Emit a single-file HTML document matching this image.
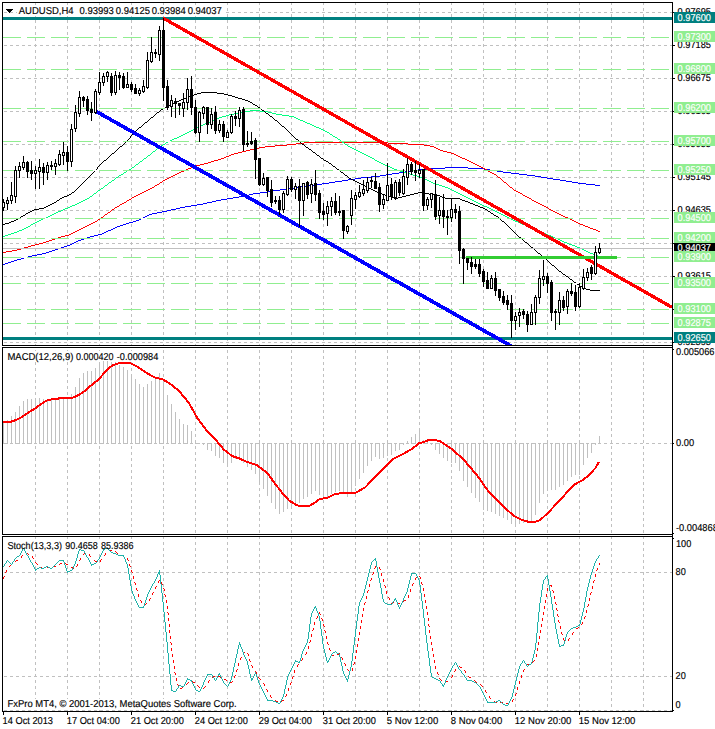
<!DOCTYPE html>
<html><head><meta charset="utf-8"><title>AUDUSD,H4</title>
<style>html,body{margin:0;padding:0;background:#fff}</style></head>
<body>
<svg width="715" height="729" viewBox="0 0 715 729" style="display:block">
<style>text{font-family:"Liberation Sans",sans-serif;font-size:10.0px;fill:#000;stroke:#000;stroke-width:.15px;text-rendering:geometricPrecision}.w{fill:#fff;stroke:#fff}</style>
<rect width="715" height="729" fill="#fff"/>
<g shape-rendering="crispEdges" stroke="#c0c0c0" stroke-width="1" stroke-dasharray="3 3">
<line x1="35.5" y1="3" x2="35.5" y2="345" stroke-dashoffset="1"/>
<line x1="67.5" y1="3" x2="67.5" y2="345" stroke-dashoffset="1"/>
<line x1="99.5" y1="3" x2="99.5" y2="345" stroke-dashoffset="1"/>
<line x1="131.5" y1="3" x2="131.5" y2="345" stroke-dashoffset="1"/>
<line x1="163.5" y1="3" x2="163.5" y2="345" stroke-dashoffset="1"/>
<line x1="195.5" y1="3" x2="195.5" y2="345" stroke-dashoffset="1"/>
<line x1="227.5" y1="3" x2="227.5" y2="345" stroke-dashoffset="1"/>
<line x1="259.5" y1="3" x2="259.5" y2="345" stroke-dashoffset="1"/>
<line x1="291.5" y1="3" x2="291.5" y2="345" stroke-dashoffset="1"/>
<line x1="323.5" y1="3" x2="323.5" y2="345" stroke-dashoffset="1"/>
<line x1="355.5" y1="3" x2="355.5" y2="345" stroke-dashoffset="1"/>
<line x1="387.5" y1="3" x2="387.5" y2="345" stroke-dashoffset="1"/>
<line x1="419.5" y1="3" x2="419.5" y2="345" stroke-dashoffset="1"/>
<line x1="451.5" y1="3" x2="451.5" y2="345" stroke-dashoffset="1"/>
<line x1="483.5" y1="3" x2="483.5" y2="345" stroke-dashoffset="1"/>
<line x1="515.5" y1="3" x2="515.5" y2="345" stroke-dashoffset="1"/>
<line x1="547.5" y1="3" x2="547.5" y2="345" stroke-dashoffset="1"/>
<line x1="579.5" y1="3" x2="579.5" y2="345" stroke-dashoffset="1"/>
<line x1="611.5" y1="3" x2="611.5" y2="345" stroke-dashoffset="1"/>
<line x1="643.5" y1="3" x2="643.5" y2="345" stroke-dashoffset="1"/>
<line x1="35.5" y1="348" x2="35.5" y2="534" stroke-dashoffset="4"/>
<line x1="67.5" y1="348" x2="67.5" y2="534" stroke-dashoffset="4"/>
<line x1="99.5" y1="348" x2="99.5" y2="534" stroke-dashoffset="4"/>
<line x1="131.5" y1="348" x2="131.5" y2="534" stroke-dashoffset="4"/>
<line x1="163.5" y1="348" x2="163.5" y2="534" stroke-dashoffset="4"/>
<line x1="195.5" y1="348" x2="195.5" y2="534" stroke-dashoffset="4"/>
<line x1="227.5" y1="348" x2="227.5" y2="534" stroke-dashoffset="4"/>
<line x1="259.5" y1="348" x2="259.5" y2="534" stroke-dashoffset="4"/>
<line x1="291.5" y1="348" x2="291.5" y2="534" stroke-dashoffset="4"/>
<line x1="323.5" y1="348" x2="323.5" y2="534" stroke-dashoffset="4"/>
<line x1="355.5" y1="348" x2="355.5" y2="534" stroke-dashoffset="4"/>
<line x1="387.5" y1="348" x2="387.5" y2="534" stroke-dashoffset="4"/>
<line x1="419.5" y1="348" x2="419.5" y2="534" stroke-dashoffset="4"/>
<line x1="451.5" y1="348" x2="451.5" y2="534" stroke-dashoffset="4"/>
<line x1="483.5" y1="348" x2="483.5" y2="534" stroke-dashoffset="4"/>
<line x1="515.5" y1="348" x2="515.5" y2="534" stroke-dashoffset="4"/>
<line x1="547.5" y1="348" x2="547.5" y2="534" stroke-dashoffset="4"/>
<line x1="579.5" y1="348" x2="579.5" y2="534" stroke-dashoffset="4"/>
<line x1="611.5" y1="348" x2="611.5" y2="534" stroke-dashoffset="4"/>
<line x1="643.5" y1="348" x2="643.5" y2="534" stroke-dashoffset="4"/>
<line x1="35.5" y1="537" x2="35.5" y2="711" stroke-dashoffset="1"/>
<line x1="67.5" y1="537" x2="67.5" y2="711" stroke-dashoffset="1"/>
<line x1="99.5" y1="537" x2="99.5" y2="711" stroke-dashoffset="1"/>
<line x1="131.5" y1="537" x2="131.5" y2="711" stroke-dashoffset="1"/>
<line x1="163.5" y1="537" x2="163.5" y2="711" stroke-dashoffset="1"/>
<line x1="195.5" y1="537" x2="195.5" y2="711" stroke-dashoffset="1"/>
<line x1="227.5" y1="537" x2="227.5" y2="711" stroke-dashoffset="1"/>
<line x1="259.5" y1="537" x2="259.5" y2="711" stroke-dashoffset="1"/>
<line x1="291.5" y1="537" x2="291.5" y2="711" stroke-dashoffset="1"/>
<line x1="323.5" y1="537" x2="323.5" y2="711" stroke-dashoffset="1"/>
<line x1="355.5" y1="537" x2="355.5" y2="711" stroke-dashoffset="1"/>
<line x1="387.5" y1="537" x2="387.5" y2="711" stroke-dashoffset="1"/>
<line x1="419.5" y1="537" x2="419.5" y2="711" stroke-dashoffset="1"/>
<line x1="451.5" y1="537" x2="451.5" y2="711" stroke-dashoffset="1"/>
<line x1="483.5" y1="537" x2="483.5" y2="711" stroke-dashoffset="1"/>
<line x1="515.5" y1="537" x2="515.5" y2="711" stroke-dashoffset="1"/>
<line x1="547.5" y1="537" x2="547.5" y2="711" stroke-dashoffset="1"/>
<line x1="579.5" y1="537" x2="579.5" y2="711" stroke-dashoffset="1"/>
<line x1="611.5" y1="537" x2="611.5" y2="711" stroke-dashoffset="1"/>
<line x1="643.5" y1="537" x2="643.5" y2="711" stroke-dashoffset="1"/>
<line x1="4" y1="12.5" x2="672" y2="12.5"/>
<line x1="4" y1="45.5" x2="672" y2="45.5"/>
<line x1="4" y1="78.5" x2="672" y2="78.5"/>
<line x1="4" y1="111.5" x2="672" y2="111.5"/>
<line x1="4" y1="144.5" x2="672" y2="144.5"/>
<line x1="4" y1="177.5" x2="672" y2="177.5"/>
<line x1="4" y1="210.5" x2="672" y2="210.5"/>
<line x1="4" y1="243.5" x2="672" y2="243.5"/>
<line x1="4" y1="276.5" x2="672" y2="276.5"/>
<line x1="4" y1="309.5" x2="672" y2="309.5"/>
<line x1="4" y1="342.5" x2="672" y2="342.5"/>
</g>
<g shape-rendering="crispEdges" stroke="#c0c0c0" stroke-width="1" stroke-dasharray="3 3">
<line x1="4" y1="443.5" x2="672" y2="443.5"/>
<line x1="4" y1="572.5" x2="672" y2="572.5"/>
<line x1="4" y1="676.5" x2="672" y2="676.5"/>
<line x1="4" y1="710.5" x2="672" y2="710.5"/>
</g>
<g shape-rendering="crispEdges">
<path d="M445 167h23v1h-23zM428 168h17v1h-17zM468 168h16v1h-16zM418 169h10v1h-10zM484 169h6v1h-6zM412 170h6v1h-6zM490 170h7v1h-7zM405 171h7v1h-7zM497 171h6v1h-6zM399 172h6v1h-6zM503 172h8v1h-8zM392 173h7v1h-7zM511 173h8v1h-8zM386 174h6v1h-6zM519 174h8v1h-8zM380 175h6v1h-6zM527 175h8v1h-8zM371 176h9v1h-9zM535 176h6v1h-6zM361 177h10v1h-10zM541 177h6v1h-6zM355 178h6v1h-6zM547 178h6v1h-6zM348 179h7v1h-7zM553 179h7v1h-7zM342 180h6v1h-6zM560 180h6v1h-6zM335 181h7v1h-7zM566 181h6v1h-6zM329 182h6v1h-6zM572 182h6v1h-6zM322 183h7v1h-7zM578 183h8v1h-8zM314 184h8v1h-8zM586 184h9v1h-9zM307 185h7v1h-7zM595 185h5v1h-5zM301 186h6v1h-6zM295 187h6v1h-6zM289 188h6v1h-6zM280 189h9v1h-9zM272 190h8v1h-8zM268 191h4v1h-4zM260 192h8v1h-8zM253 193h7v1h-7zM249 194h4v1h-4zM245 195h4v1h-4zM239 196h6v1h-6zM233 197h6v1h-6zM227 198h6v1h-6zM221 199h6v1h-6zM216 200h5v1h-5zM212 201h4v1h-4zM207 202h5v1h-5zM203 203h4v1h-4zM197 204h6v1h-6zM191 205h6v1h-6zM185 206h6v1h-6zM180 207h5v1h-5zM176 208h4v1h-4zM171 209h5v1h-5zM167 210h4v1h-4zM162 211h5v1h-5zM157 212h5v1h-5zM152 213h5v1h-5zM149 214h3v1h-3zM147 215h2v1h-2zM145 216h2v1h-2zM143 217h2v1h-2zM141 218h2v1h-2zM139 219h2v1h-2zM136 220h3v1h-3zM133 221h3v1h-3zM129 222h4v1h-4zM126 223h3v1h-3zM123 224h3v1h-3zM120 225h3v1h-3zM117 226h3v1h-3zM115 227h2v1h-2zM113 228h2v1h-2zM111 229h2v1h-2zM108 230h3v1h-3zM106 231h2v1h-2zM104 232h2v1h-2zM102 233h2v1h-2zM98 234h4v1h-4zM94 235h4v1h-4zM90 236h4v1h-4zM87 237h3v1h-3zM84 238h3v1h-3zM81 239h3v1h-3zM78 240h3v1h-3zM76 241h2v1h-2zM74 242h2v1h-2zM72 243h2v1h-2zM70 244h2v1h-2zM67 245h3v1h-3zM64 246h3v1h-3zM61 247h3v1h-3zM58 248h3v1h-3zM55 249h3v1h-3zM52 250h3v1h-3zM49 251h3v1h-3zM46 252h3v1h-3zM42 253h4v1h-4zM37 254h5v1h-5zM32 255h5v1h-5zM28 256h4v1h-4zM24 257h4v1h-4zM21 258h3v1h-3zM17 259h4v1h-4zM14 260h3v1h-3zM11 261h3v1h-3zM8 262h3v1h-3zM5 263h3v1h-3zM3 264h2v1h-2z" fill="#0000ff"/>
<path d="M304 142h84v1h-84zM296 143h8v1h-8zM388 143h20v1h-20zM287 144h9v1h-9zM408 144h16v1h-16zM275 145h12v1h-12zM424 145h6v1h-6zM265 146h10v1h-10zM430 146h4v1h-4zM259 147h6v1h-6zM434 147h2v1h-2zM254 148h5v1h-5zM436 148h2v1h-2zM250 149h4v1h-4zM438 149h2v1h-2zM246 150h4v1h-4zM440 150h3v1h-3zM242 151h4v1h-4zM443 151h4v1h-4zM238 152h4v1h-4zM447 152h4v1h-4zM234 153h4v1h-4zM451 153h3v1h-3zM231 154h3v1h-3zM454 154h2v1h-2zM229 155h2v1h-2zM456 155h2v1h-2zM226 156h3v1h-3zM458 156h2v1h-2zM224 157h2v1h-2zM460 157h2v1h-2zM221 158h3v1h-3zM462 158h3v1h-3zM218 159h3v1h-3zM465 159h2v1h-2zM214 160h4v1h-4zM467 160h2v1h-2zM211 161h3v1h-3zM469 161h2v1h-2zM208 162h3v1h-3zM471 162h2v1h-2zM204 163h4v1h-4zM473 163h2v1h-2zM200 164h4v1h-4zM475 164h2v1h-2zM196 165h4v1h-4zM477 165h2v1h-2zM193 166h3v1h-3zM479 166h2v1h-2zM191 167h2v1h-2zM481 167h2v1h-2zM188 168h3v1h-3zM483 168h2v1h-2zM186 169h2v1h-2zM485 169h2v1h-2zM184 170h2v1h-2zM181 171h3v1h-3zM488 171h2v1h-2zM179 172h2v1h-2zM490 172h2v1h-2zM177 173h2v1h-2zM492 173h2v1h-2zM175 174h2v1h-2zM494 174h2v1h-2zM173 175h2v1h-2zM171 176h2v1h-2zM169 177h2v1h-2zM498 177h2v1h-2zM167 178h2v1h-2zM165 179h2v1h-2zM163 180h2v1h-2zM160 182h2v1h-2zM504 182h2v1h-2zM157 184h2v1h-2zM155 185h2v1h-2zM152 187h2v1h-2zM510 187h2v1h-2zM150 188h2v1h-2zM148 189h2v1h-2zM146 190h2v1h-2zM514 190h2v1h-2zM144 191h2v1h-2zM516 191h2v1h-2zM142 192h2v1h-2zM518 192h2v1h-2zM140 193h2v1h-2zM520 193h2v1h-2zM138 194h2v1h-2zM136 195h2v1h-2zM523 195h2v1h-2zM134 196h2v1h-2zM525 196h2v1h-2zM132 197h2v1h-2zM527 197h2v1h-2zM529 198h2v1h-2zM129 199h2v1h-2zM127 200h2v1h-2zM532 200h2v1h-2zM534 201h2v1h-2zM124 202h2v1h-2zM536 202h2v1h-2zM122 203h2v1h-2zM538 203h2v1h-2zM120 204h2v1h-2zM540 204h2v1h-2zM542 205h2v1h-2zM117 206h2v1h-2zM544 206h2v1h-2zM115 207h2v1h-2zM546 207h2v1h-2zM112 209h2v1h-2zM549 209h2v1h-2zM551 210h2v1h-2zM553 211h2v1h-2zM108 212h2v1h-2zM555 212h2v1h-2zM557 213h2v1h-2zM105 214h2v1h-2zM559 214h2v1h-2zM561 215h2v1h-2zM563 216h2v1h-2zM101 217h2v1h-2zM565 217h3v1h-3zM568 218h2v1h-2zM98 219h2v1h-2zM570 219h2v1h-2zM572 220h2v1h-2zM95 221h2v1h-2zM574 221h2v1h-2zM93 222h2v1h-2zM576 222h2v1h-2zM91 223h2v1h-2zM578 223h2v1h-2zM89 224h2v1h-2zM580 224h3v1h-3zM87 225h2v1h-2zM583 225h2v1h-2zM85 226h2v1h-2zM585 226h3v1h-3zM83 227h2v1h-2zM588 227h2v1h-2zM81 228h2v1h-2zM590 228h3v1h-3zM79 229h2v1h-2zM593 229h3v1h-3zM77 230h2v1h-2zM596 230h2v1h-2zM75 231h2v1h-2zM598 231h2v1h-2zM73 232h2v1h-2zM71 233h2v1h-2zM69 234h2v1h-2zM65 235h4v1h-4zM61 236h4v1h-4zM58 237h3v1h-3zM55 238h3v1h-3zM52 239h3v1h-3zM49 240h3v1h-3zM46 241h3v1h-3zM43 242h3v1h-3zM39 243h4v1h-4zM35 244h4v1h-4zM31 245h4v1h-4zM28 246h3v1h-3zM24 247h4v1h-4zM21 248h3v1h-3zM17 249h4v1h-4zM12 250h5v1h-5zM6 251h6v1h-6zM3 252h3v1h-3zM97 220h1v1h-1zM100 218h1v1h-1zM103 216h1v1h-1zM104 215h1v1h-1zM107 213h1v1h-1zM110 211h1v1h-1zM111 210h1v1h-1zM114 208h1v1h-1zM119 205h1v1h-1zM126 201h1v1h-1zM131 198h1v1h-1zM154 186h1v1h-1zM159 183h1v1h-1zM162 181h1v1h-1zM487 170h1v1h-1zM496 175h1v1h-1zM497 176h1v1h-1zM500 178h1v1h-1zM501 179h1v1h-1zM502 180h1v1h-1zM503 181h1v1h-1zM506 183h1v1h-1zM507 184h1v1h-1zM508 185h1v1h-1zM509 186h1v1h-1zM512 188h1v1h-1zM513 189h1v1h-1zM522 194h1v1h-1zM531 199h1v1h-1zM548 208h1v1h-1z" fill="#ff0000"/>
<path d="M250 110h10v1h-10zM242 111h8v1h-8zM260 111h8v1h-8zM238 112h4v1h-4zM268 112h4v1h-4zM234 113h4v1h-4zM272 113h4v1h-4zM229 114h5v1h-5zM276 114h6v1h-6zM226 115h3v1h-3zM282 115h7v1h-7zM222 116h4v1h-4zM289 116h5v1h-5zM219 117h3v1h-3zM294 117h2v1h-2zM216 118h3v1h-3zM296 118h2v1h-2zM214 119h2v1h-2zM298 119h2v1h-2zM212 120h2v1h-2zM300 120h3v1h-3zM210 121h2v1h-2zM303 121h2v1h-2zM208 122h2v1h-2zM305 122h2v1h-2zM205 123h3v1h-3zM307 123h3v1h-3zM203 124h2v1h-2zM310 124h2v1h-2zM201 125h2v1h-2zM312 125h2v1h-2zM199 126h2v1h-2zM314 126h2v1h-2zM197 127h2v1h-2zM316 127h3v1h-3zM195 128h2v1h-2zM319 128h2v1h-2zM193 129h2v1h-2zM321 129h2v1h-2zM191 130h2v1h-2zM323 130h2v1h-2zM189 131h2v1h-2zM325 131h2v1h-2zM187 132h2v1h-2zM327 132h2v1h-2zM185 133h2v1h-2zM183 134h2v1h-2zM330 134h2v1h-2zM181 135h2v1h-2zM179 136h2v1h-2zM333 136h2v1h-2zM177 137h2v1h-2zM335 137h2v1h-2zM174 138h3v1h-3zM172 139h2v1h-2zM338 139h2v1h-2zM170 140h2v1h-2zM168 141h2v1h-2zM166 142h2v1h-2zM342 142h2v1h-2zM163 144h2v1h-2zM345 144h2v1h-2zM161 145h2v1h-2zM348 146h2v1h-2zM350 147h2v1h-2zM157 148h2v1h-2zM352 148h2v1h-2zM354 149h2v1h-2zM356 150h2v1h-2zM153 151h2v1h-2zM358 151h2v1h-2zM360 152h2v1h-2zM362 153h2v1h-2zM364 154h2v1h-2zM148 155h2v1h-2zM366 155h2v1h-2zM368 156h2v1h-2zM370 157h2v1h-2zM144 158h2v1h-2zM372 158h2v1h-2zM375 160h2v1h-2zM140 161h2v1h-2zM377 161h2v1h-2zM379 162h2v1h-2zM381 163h2v1h-2zM136 164h2v1h-2zM383 164h2v1h-2zM385 165h3v1h-3zM388 166h2v1h-2zM132 167h2v1h-2zM390 167h2v1h-2zM392 168h2v1h-2zM129 169h2v1h-2zM394 169h3v1h-3zM127 170h2v1h-2zM397 170h3v1h-3zM400 171h4v1h-4zM124 172h2v1h-2zM404 172h3v1h-3zM407 173h3v1h-3zM121 174h2v1h-2zM410 174h3v1h-3zM119 175h2v1h-2zM413 175h4v1h-4zM417 176h3v1h-3zM116 177h2v1h-2zM420 177h3v1h-3zM423 178h2v1h-2zM425 179h2v1h-2zM112 180h2v1h-2zM427 180h2v1h-2zM429 181h2v1h-2zM109 182h2v1h-2zM431 182h2v1h-2zM433 183h3v1h-3zM436 184h3v1h-3zM105 185h2v1h-2zM439 185h3v1h-3zM442 186h3v1h-3zM445 187h3v1h-3zM101 188h2v1h-2zM448 188h2v1h-2zM450 189h2v1h-2zM98 190h2v1h-2zM452 190h2v1h-2zM454 191h2v1h-2zM456 192h2v1h-2zM94 193h2v1h-2zM458 193h2v1h-2zM460 194h2v1h-2zM462 195h2v1h-2zM90 196h2v1h-2zM464 196h2v1h-2zM466 197h2v1h-2zM87 198h2v1h-2zM468 198h2v1h-2zM85 199h2v1h-2zM470 199h2v1h-2zM83 200h2v1h-2zM472 200h2v1h-2zM81 201h2v1h-2zM474 201h2v1h-2zM79 202h2v1h-2zM476 202h2v1h-2zM77 203h2v1h-2zM478 203h2v1h-2zM75 204h2v1h-2zM480 204h2v1h-2zM72 205h3v1h-3zM482 205h2v1h-2zM70 206h2v1h-2zM484 206h3v1h-3zM68 207h2v1h-2zM487 207h2v1h-2zM65 208h3v1h-3zM489 208h2v1h-2zM63 209h2v1h-2zM491 209h2v1h-2zM61 210h2v1h-2zM493 210h2v1h-2zM58 211h3v1h-3zM495 211h2v1h-2zM56 212h2v1h-2zM497 212h2v1h-2zM54 213h2v1h-2zM499 213h2v1h-2zM52 214h2v1h-2zM501 214h2v1h-2zM50 215h2v1h-2zM503 215h2v1h-2zM48 216h2v1h-2zM505 216h2v1h-2zM46 217h2v1h-2zM507 217h2v1h-2zM43 218h3v1h-3zM509 218h2v1h-2zM41 219h2v1h-2zM511 219h2v1h-2zM39 220h2v1h-2zM513 220h2v1h-2zM37 221h2v1h-2zM515 221h3v1h-3zM35 222h2v1h-2zM518 222h2v1h-2zM33 223h2v1h-2zM520 223h2v1h-2zM31 224h2v1h-2zM522 224h3v1h-3zM525 225h2v1h-2zM28 226h2v1h-2zM527 226h3v1h-3zM26 227h2v1h-2zM530 227h2v1h-2zM24 228h2v1h-2zM532 228h2v1h-2zM22 229h2v1h-2zM534 229h3v1h-3zM19 230h3v1h-3zM537 230h2v1h-2zM17 231h2v1h-2zM539 231h3v1h-3zM14 232h3v1h-3zM542 232h2v1h-2zM11 233h3v1h-3zM544 233h2v1h-2zM8 234h3v1h-3zM546 234h2v1h-2zM5 235h3v1h-3zM548 235h3v1h-3zM3 236h2v1h-2zM551 236h2v1h-2zM553 237h2v1h-2zM555 238h3v1h-3zM558 239h2v1h-2zM560 240h2v1h-2zM562 241h2v1h-2zM564 242h3v1h-3zM567 243h2v1h-2zM569 244h3v1h-3zM572 245h3v1h-3zM575 246h2v1h-2zM577 247h3v1h-3zM580 248h2v1h-2zM582 249h2v1h-2zM584 250h2v1h-2zM586 251h2v1h-2zM588 252h2v1h-2zM590 253h3v1h-3zM593 254h2v1h-2zM595 255h3v1h-3zM598 256h2v1h-2zM30 225h1v1h-1zM89 197h1v1h-1zM92 195h1v1h-1zM93 194h1v1h-1zM96 192h1v1h-1zM97 191h1v1h-1zM100 189h1v1h-1zM103 187h1v1h-1zM104 186h1v1h-1zM107 184h1v1h-1zM108 183h1v1h-1zM111 181h1v1h-1zM114 179h1v1h-1zM115 178h1v1h-1zM118 176h1v1h-1zM123 173h1v1h-1zM126 171h1v1h-1zM131 168h1v1h-1zM134 166h1v1h-1zM135 165h1v1h-1zM138 163h1v1h-1zM139 162h1v1h-1zM142 160h1v1h-1zM143 159h1v1h-1zM146 157h1v1h-1zM147 156h1v1h-1zM150 154h1v1h-1zM151 153h1v1h-1zM152 152h1v1h-1zM155 150h1v1h-1zM156 149h1v1h-1zM159 147h1v1h-1zM160 146h1v1h-1zM165 143h1v1h-1zM329 133h1v1h-1zM332 135h1v1h-1zM337 138h1v1h-1zM340 140h1v1h-1zM341 141h1v1h-1zM344 143h1v1h-1zM347 145h1v1h-1zM374 159h1v1h-1z" fill="#00ff7f"/>
<path d="M201 92h16v1h-16zM197 93h4v1h-4zM217 93h7v1h-7zM194 94h3v1h-3zM224 94h4v1h-4zM191 95h3v1h-3zM228 95h4v1h-4zM189 96h2v1h-2zM232 96h3v1h-3zM186 97h3v1h-3zM235 97h3v1h-3zM183 98h3v1h-3zM238 98h4v1h-4zM181 99h2v1h-2zM242 99h3v1h-3zM179 100h2v1h-2zM245 100h3v1h-3zM177 101h2v1h-2zM248 101h2v1h-2zM175 102h2v1h-2zM250 102h2v1h-2zM173 103h2v1h-2zM171 104h2v1h-2zM253 104h2v1h-2zM169 105h2v1h-2zM255 105h2v1h-2zM167 106h2v1h-2zM165 107h2v1h-2zM258 107h2v1h-2zM163 108h2v1h-2zM161 109h2v1h-2zM262 110h2v1h-2zM157 112h2v1h-2zM266 113h2v1h-2zM270 116h2v1h-2zM151 117h2v1h-2zM275 120h2v1h-2zM145 122h2v1h-2zM282 126h2v1h-2zM139 127h2v1h-2zM296 139h2v1h-2zM302 144h2v1h-2zM120 146h2v1h-2zM306 147h2v1h-2zM309 149h2v1h-2zM313 152h2v1h-2zM112 153h2v1h-2zM317 155h2v1h-2zM321 158h2v1h-2zM104 160h2v1h-2zM324 160h2v1h-2zM326 161h2v1h-2zM329 163h2v1h-2zM333 166h2v1h-2zM337 169h2v1h-2zM341 172h2v1h-2zM345 175h2v1h-2zM349 178h2v1h-2zM351 179h2v1h-2zM353 180h2v1h-2zM355 181h2v1h-2zM357 182h2v1h-2zM359 183h2v1h-2zM361 184h2v1h-2zM363 185h2v1h-2zM365 186h2v1h-2zM367 187h2v1h-2zM369 188h2v1h-2zM371 189h2v1h-2zM373 190h2v1h-2zM375 191h2v1h-2zM72 192h2v1h-2zM377 192h3v1h-3zM418 192h5v1h-5zM380 193h2v1h-2zM414 193h4v1h-4zM423 193h6v1h-6zM69 194h2v1h-2zM382 194h3v1h-3zM410 194h4v1h-4zM429 194h6v1h-6zM67 195h2v1h-2zM385 195h3v1h-3zM406 195h4v1h-4zM435 195h5v1h-5zM64 196h3v1h-3zM388 196h3v1h-3zM402 196h4v1h-4zM440 196h2v1h-2zM62 197h2v1h-2zM391 197h3v1h-3zM398 197h4v1h-4zM442 197h3v1h-3zM60 198h2v1h-2zM394 198h4v1h-4zM445 198h15v1h-15zM460 199h2v1h-2zM57 200h2v1h-2zM462 200h3v1h-3zM465 201h3v1h-3zM54 202h2v1h-2zM468 202h2v1h-2zM52 203h2v1h-2zM470 203h3v1h-3zM50 204h2v1h-2zM473 204h2v1h-2zM48 205h2v1h-2zM475 205h3v1h-3zM46 206h2v1h-2zM478 206h2v1h-2zM44 207h2v1h-2zM480 207h3v1h-3zM39 208h5v1h-5zM483 208h2v1h-2zM34 209h5v1h-5zM485 209h2v1h-2zM32 210h2v1h-2zM30 211h2v1h-2zM488 211h2v1h-2zM28 212h2v1h-2zM26 213h2v1h-2zM491 213h2v1h-2zM23 215h2v1h-2zM494 215h2v1h-2zM21 216h2v1h-2zM496 216h2v1h-2zM18 218h2v1h-2zM16 219h2v1h-2zM14 220h2v1h-2zM11 221h3v1h-3zM502 221h2v1h-2zM9 222h2v1h-2zM5 223h4v1h-4zM3 224h2v1h-2zM519 237h2v1h-2zM525 242h2v1h-2zM531 247h2v1h-2zM538 253h2v1h-2zM544 258h2v1h-2zM552 265h2v1h-2zM559 271h2v1h-2zM563 274h2v1h-2zM566 276h2v1h-2zM570 279h2v1h-2zM574 282h2v1h-2zM577 284h2v1h-2zM580 286h2v1h-2zM582 287h2v1h-2zM584 288h2v1h-2zM586 289h4v1h-4zM590 290h10v1h-10zM20 217h1v1h-1zM25 214h1v1h-1zM56 201h1v1h-1zM59 199h1v1h-1zM71 193h1v1h-1zM74 191h1v1h-1zM75 190h1v1h-1zM76 189h1v1h-1zM77 188h1v1h-1zM78 187h1v1h-1zM79 186h1v1h-1zM80 185h1v1h-1zM81 184h1v1h-1zM82 183h1v1h-1zM83 182h1v1h-1zM84 181h1v1h-1zM85 180h1v1h-1zM86 179h1v1h-1zM87 178h1v1h-1zM88 177h1v1h-1zM89 176h1v1h-1zM90 175h1v1h-1zM91 174h1v1h-1zM92 173h1v1h-1zM93 172h1v1h-1zM94 171h1v1h-1zM95 170h1v1h-1zM96 169h1v1h-1zM97 167h1v2h-1zM98 166h1v1h-1zM99 165h1v1h-1zM100 164h1v1h-1zM101 163h1v1h-1zM102 162h1v1h-1zM103 161h1v1h-1zM106 159h1v1h-1zM107 158h1v1h-1zM108 157h1v1h-1zM109 156h1v1h-1zM110 155h1v1h-1zM111 154h1v1h-1zM114 152h1v1h-1zM115 151h1v1h-1zM116 150h1v1h-1zM117 149h1v1h-1zM118 148h1v1h-1zM119 147h1v1h-1zM122 145h1v1h-1zM123 144h1v1h-1zM124 143h1v1h-1zM125 142h1v1h-1zM126 141h1v1h-1zM127 140h1v1h-1zM128 139h1v1h-1zM129 138h1v1h-1zM130 136h1v2h-1zM131 135h1v1h-1zM132 134h1v1h-1zM133 133h1v1h-1zM134 132h1v1h-1zM135 131h1v1h-1zM136 130h1v1h-1zM137 129h1v1h-1zM138 128h1v1h-1zM141 126h1v1h-1zM142 125h1v1h-1zM143 124h1v1h-1zM144 123h1v1h-1zM147 121h1v1h-1zM148 120h1v1h-1zM149 119h1v1h-1zM150 118h1v1h-1zM153 116h1v1h-1zM154 115h1v1h-1zM155 114h1v1h-1zM156 113h1v1h-1zM159 111h1v1h-1zM160 110h1v1h-1zM252 103h1v1h-1zM257 106h1v1h-1zM260 108h1v1h-1zM261 109h1v1h-1zM264 111h1v1h-1zM265 112h1v1h-1zM268 114h1v1h-1zM269 115h1v1h-1zM272 117h1v1h-1zM273 118h1v1h-1zM274 119h1v1h-1zM277 121h1v1h-1zM278 122h1v1h-1zM279 123h1v1h-1zM280 124h1v1h-1zM281 125h1v1h-1zM284 127h1v1h-1zM285 128h1v1h-1zM286 129h1v1h-1zM287 130h1v1h-1zM288 131h1v1h-1zM289 132h1v1h-1zM290 133h1v1h-1zM291 134h1v1h-1zM292 135h1v1h-1zM293 136h1v1h-1zM294 137h1v1h-1zM295 138h1v1h-1zM298 140h1v1h-1zM299 141h1v1h-1zM300 142h1v1h-1zM301 143h1v1h-1zM304 145h1v1h-1zM305 146h1v1h-1zM308 148h1v1h-1zM311 150h1v1h-1zM312 151h1v1h-1zM315 153h1v1h-1zM316 154h1v1h-1zM319 156h1v1h-1zM320 157h1v1h-1zM323 159h1v1h-1zM328 162h1v1h-1zM331 164h1v1h-1zM332 165h1v1h-1zM335 167h1v1h-1zM336 168h1v1h-1zM339 170h1v1h-1zM340 171h1v1h-1zM343 173h1v1h-1zM344 174h1v1h-1zM347 176h1v1h-1zM348 177h1v1h-1zM487 210h1v1h-1zM490 212h1v1h-1zM493 214h1v1h-1zM498 217h1v1h-1zM499 218h1v1h-1zM500 219h1v1h-1zM501 220h1v1h-1zM504 222h1v1h-1zM505 223h1v1h-1zM506 224h1v1h-1zM507 225h1v1h-1zM508 226h1v1h-1zM509 227h1v1h-1zM510 228h1v1h-1zM511 229h1v1h-1zM512 230h1v1h-1zM513 231h1v1h-1zM514 232h1v1h-1zM515 233h1v1h-1zM516 234h1v1h-1zM517 235h1v1h-1zM518 236h1v1h-1zM521 238h1v1h-1zM522 239h1v1h-1zM523 240h1v1h-1zM524 241h1v1h-1zM527 243h1v1h-1zM528 244h1v1h-1zM529 245h1v1h-1zM530 246h1v1h-1zM533 248h1v1h-1zM534 249h1v1h-1zM535 250h1v1h-1zM536 251h1v1h-1zM537 252h1v1h-1zM540 254h1v1h-1zM541 255h1v1h-1zM542 256h1v1h-1zM543 257h1v1h-1zM546 259h1v1h-1zM547 260h1v1h-1zM548 261h1v1h-1zM549 262h1v1h-1zM550 263h1v1h-1zM551 264h1v1h-1zM554 266h1v1h-1zM555 267h1v1h-1zM556 268h1v1h-1zM557 269h1v1h-1zM558 270h1v1h-1zM561 272h1v1h-1zM562 273h1v1h-1zM565 275h1v1h-1zM568 277h1v1h-1zM569 278h1v1h-1zM572 280h1v1h-1zM573 281h1v1h-1zM576 283h1v1h-1zM579 285h1v1h-1z" fill="#000"/>
</g>
<g shape-rendering="crispEdges" stroke="#fff" stroke-width="1">
<line x1="3" y1="37.5" x2="672" y2="37.5"/>
<line x1="3" y1="69.5" x2="672" y2="69.5"/>
<line x1="3" y1="108.5" x2="672" y2="108.5"/>
<line x1="3" y1="141.5" x2="672" y2="141.5"/>
<line x1="3" y1="170.5" x2="672" y2="170.5"/>
<line x1="3" y1="218.5" x2="672" y2="218.5"/>
<line x1="3" y1="238.5" x2="672" y2="238.5"/>
<line x1="3" y1="257.5" x2="672" y2="257.5"/>
<line x1="3" y1="283.5" x2="672" y2="283.5"/>
<line x1="3" y1="309.5" x2="672" y2="309.5"/>
<line x1="3" y1="323.5" x2="672" y2="323.5"/>
</g>
<g shape-rendering="crispEdges" stroke="#90ee90" stroke-width="1" stroke-dasharray="18 6">
<line x1="3" y1="37.5" x2="672" y2="37.5"/>
<line x1="3" y1="69.5" x2="672" y2="69.5"/>
<line x1="3" y1="108.5" x2="672" y2="108.5"/>
<line x1="3" y1="141.5" x2="672" y2="141.5"/>
<line x1="3" y1="170.5" x2="672" y2="170.5"/>
<line x1="3" y1="218.5" x2="672" y2="218.5"/>
<line x1="3" y1="238.5" x2="672" y2="238.5"/>
<line x1="3" y1="257.5" x2="672" y2="257.5"/>
<line x1="3" y1="283.5" x2="672" y2="283.5"/>
<line x1="3" y1="309.5" x2="672" y2="309.5"/>
<line x1="3" y1="323.5" x2="672" y2="323.5"/>
</g>
<line x1="3" y1="248.5" x2="672" y2="248.5" stroke="#c0c0c0" shape-rendering="crispEdges"/>
<rect x="3" y="17" width="669" height="3" fill="#008080"/>
<rect x="3" y="337" width="669" height="3" fill="#008080"/>
<rect x="17" y="5" width="206" height="11" fill="#fff"/>
<rect x="7" y="351" width="152" height="11" fill="#fff"/>
<rect x="7" y="540" width="127" height="11" fill="#fff"/>
<rect x="7" y="699" width="230" height="10" fill="#fff"/>
<defs><clipPath id="cm"><rect x="3" y="3" width="669" height="342"/></clipPath><clipPath id="cd"><rect x="3" y="348" width="669" height="186"/></clipPath><clipPath id="cs"><rect x="3" y="537" width="669" height="174"/></clipPath></defs>
<g clip-path="url(#cm)" shape-rendering="crispEdges" fill="none" stroke-width="3">
<line x1="163" y1="18" x2="672" y2="307.3" stroke="#ff0000" stroke-width="3.3"/>
<line x1="96" y1="111.3" x2="512" y2="346.5" stroke="#0000ff" stroke-width="3.7"/>
<rect x="466" y="256" width="151" height="3" fill="#32cd32" stroke="none"/>
</g>
<g clip-path="url(#cm)" shape-rendering="crispEdges">
<path d="M3 199h1V211h-1zM7 197h1V210h-1zM11 182h1V204h-1zM15 166h1V203h-1zM19 162h1V178h-1zM23 156h1V170h-1zM27 161h1V178h-1zM31 161h1V180h-1zM35 166h1V189h-1zM39 159h1V189h-1zM43 163h1V185h-1zM47 162h1V180h-1zM51 161h1V170h-1zM55 159h1V175h-1zM59 150h1V166h-1zM63 142h1V165h-1zM67 146h1V171h-1zM71 124h1V167h-1zM75 105h1V132h-1zM79 91h1V117h-1zM83 96h1V107h-1zM87 96h1V115h-1zM91 102h1V121h-1zM95 89h1V114h-1zM99 72h1V95h-1zM103 73h1V86h-1zM107 71h1V82h-1zM111 73h1V96h-1zM115 71h1V95h-1zM119 72h1V90h-1zM123 73h1V89h-1zM127 72h1V88h-1zM131 82h1V92h-1zM135 84h1V94h-1zM139 88h1V96h-1zM143 80h1V93h-1zM147 52h1V89h-1zM151 37h1V63h-1zM155 49h1V58h-1zM159 26h1V61h-1zM163 18h1V101h-1zM167 80h1V110h-1zM171 95h1V117h-1zM175 98h1V118h-1zM179 103h1V115h-1zM183 93h1V117h-1zM187 78h1V110h-1zM191 76h1V115h-1zM195 100h1V134h-1zM199 111h1V142h-1zM203 106h1V119h-1zM207 107h1V134h-1zM211 108h1V129h-1zM215 106h1V134h-1zM219 120h1V133h-1zM223 121h1V142h-1zM227 130h1V138h-1zM231 114h1V134h-1zM235 111h1V126h-1zM239 107h1V127h-1zM243 107h1V151h-1zM247 131h1V147h-1zM251 132h1V145h-1zM255 138h1V179h-1zM259 158h1V186h-1zM263 173h1V186h-1zM267 177h1V197h-1zM271 180h1V207h-1zM275 196h1V204h-1zM279 196h1V215h-1zM283 191h1V213h-1zM287 176h1V196h-1zM291 177h1V192h-1zM295 183h1V199h-1zM299 179h1V227h-1zM303 183h1V216h-1zM307 181h1V199h-1zM311 179h1V203h-1zM315 170h1V201h-1zM319 190h1V219h-1zM323 203h1V220h-1zM327 201h1V226h-1zM331 197h1V216h-1zM335 193h1V215h-1zM339 196h1V216h-1zM343 210h1V239h-1zM347 225h1V234h-1zM351 190h1V225h-1zM355 192h1V209h-1zM359 185h1V198h-1zM363 180h1V196h-1zM367 177h1V193h-1zM371 177h1V188h-1zM375 173h1V189h-1zM379 183h1V212h-1zM383 194h1V209h-1zM387 163h1V201h-1zM391 178h1V200h-1zM395 180h1V200h-1zM399 179h1V196h-1zM403 169h1V195h-1zM407 158h1V185h-1zM411 162h1V175h-1zM415 161h1V181h-1zM419 164h1V178h-1zM423 169h1V211h-1zM427 197h1V210h-1zM431 193h1V208h-1zM435 180h1V220h-1zM439 197h1V224h-1zM443 194h1V228h-1zM447 210h1V235h-1zM451 199h1V222h-1zM455 204h1V219h-1zM459 206h1V264h-1zM463 248h1V284h-1zM467 258h1V270h-1zM471 257h1V274h-1zM475 259h1V269h-1zM479 259h1V277h-1zM483 269h1V287h-1zM487 272h1V289h-1zM491 275h1V289h-1zM495 272h1V296h-1zM499 289h1V301h-1zM503 291h1V305h-1zM507 295h1V310h-1zM511 295h1V338h-1zM515 312h1V330h-1zM519 308h1V327h-1zM523 309h1V319h-1zM527 311h1V332h-1zM531 304h1V325h-1zM535 295h1V325h-1zM539 270h1V304h-1zM543 260h1V286h-1zM547 273h1V293h-1zM551 280h1V321h-1zM555 309h1V330h-1zM559 292h1V325h-1zM563 296h1V311h-1zM567 289h1V314h-1zM571 283h1V296h-1zM575 285h1V311h-1zM579 283h1V308h-1zM583 269h1V290h-1zM587 268h1V281h-1zM591 265h1V280h-1zM595 246h1V275h-1zM599 243h1V254h-1z" fill="#000"/>
<path d="M26 162h3V172h-3zM30 170h3V174h-3zM42 167h3V173h-3zM50 165h3V167h-3zM66 152h3V162h-3zM82 97h3V101h-3zM86 99h3V111h-3zM90 109h3V113h-3zM110 76h3V93h-3zM118 75h3V78h-3zM122 76h3V88h-3zM130 84h3V90h-3zM134 88h3V94h-3zM154 52h3V54h-3zM162 30h3V88h-3zM166 86h3V108h-3zM174 101h3V104h-3zM178 103h3V106h-3zM190 89h3V108h-3zM194 107h3V133h-3zM206 107h3V125h-3zM214 112h3V131h-3zM222 124h3V137h-3zM234 116h3V119h-3zM242 109h3V145h-3zM246 143h3V145h-3zM250 141h3V144h-3zM254 140h3V160h-3zM258 158h3V185h-3zM266 177h3V191h-3zM270 189h3V203h-3zM274 200h3V202h-3zM278 200h3V210h-3zM290 179h3V190h-3zM298 186h3V201h-3zM306 182h3V195h-3zM314 183h3V195h-3zM318 193h3V213h-3zM322 211h3V215h-3zM334 201h3V213h-3zM338 211h3V213h-3zM342 210h3V231h-3zM370 180h3V182h-3zM374 181h3V189h-3zM378 187h3V205h-3zM390 184h3V197h-3zM398 182h3V193h-3zM410 164h3V172h-3zM414 170h3V173h-3zM422 169h3V206h-3zM434 194h3V217h-3zM442 210h3V217h-3zM446 216h3V218h-3zM454 209h3V213h-3zM458 211h3V251h-3zM462 249h3V259h-3zM466 258h3V263h-3zM470 262h3V267h-3zM474 264h3V267h-3zM478 264h3V274h-3zM482 271h3V282h-3zM486 280h3V289h-3zM494 278h3V291h-3zM498 289h3V298h-3zM502 296h3V303h-3zM506 300h3V305h-3zM510 303h3V321h-3zM522 311h3V315h-3zM526 314h3V325h-3zM546 276h3V284h-3zM550 282h3V313h-3zM554 311h3V313h-3zM562 300h3V308h-3zM570 291h3V294h-3zM574 292h3V307h-3zM590 267h3V274h-3z" fill="#000"/>
<path d="M2.5 202.5h2V207.5h-2zM6.5 200.5h2V203.5h-2zM10.5 195.5h2V200.5h-2zM14.5 170.5h2V196.5h-2zM18.5 166.5h2V170.5h-2zM22.5 162.5h2V167.5h-2zM34.5 170.5h2V173.5h-2zM38.5 167.5h2V171.5h-2zM46.5 165.5h2V172.5h-2zM54.5 163.5h2V166.5h-2zM58.5 154.5h2V164.5h-2zM62.5 152.5h2V155.5h-2zM70.5 129.5h2V161.5h-2zM74.5 112.5h2V128.5h-2zM78.5 97.5h2V113.5h-2zM94.5 91.5h2V112.5h-2zM98.5 82.5h2V92.5h-2zM102.5 76.5h2V82.5h-2zM106.5 72.5h2V76.5h-2zM114.5 75.5h2V92.5h-2zM126.5 84.5h2V87.5h-2zM138.5 90.5h2V93.5h-2zM142.5 86.5h2V91.5h-2zM146.5 60.5h2V87.5h-2zM150.5 52.5h2V61.5h-2zM158.5 30.5h2V54.5h-2zM170.5 100.5h2V106.5h-2zM182.5 102.5h2V108.5h-2zM186.5 89.5h2V102.5h-2zM198.5 112.5h2V132.5h-2zM202.5 107.5h2V113.5h-2zM210.5 114.5h2V124.5h-2zM218.5 124.5h2V130.5h-2zM226.5 132.5h2V137.5h-2zM230.5 116.5h2V132.5h-2zM238.5 110.5h2V118.5h-2zM262.5 178.5h2V184.5h-2zM282.5 193.5h2V209.5h-2zM286.5 179.5h2V194.5h-2zM294.5 186.5h2V189.5h-2zM302.5 183.5h2V200.5h-2zM310.5 184.5h2V193.5h-2zM326.5 206.5h2V213.5h-2zM330.5 201.5h2V206.5h-2zM346.5 226.5h2V231.5h-2zM350.5 198.5h2V215.5h-2zM354.5 195.5h2V199.5h-2zM358.5 192.5h2V196.5h-2zM362.5 189.5h2V193.5h-2zM366.5 182.5h2V190.5h-2zM382.5 199.5h2V204.5h-2zM386.5 185.5h2V200.5h-2zM394.5 182.5h2V197.5h-2zM402.5 176.5h2V193.5h-2zM406.5 164.5h2V177.5h-2zM418.5 170.5h2V173.5h-2zM426.5 199.5h2V205.5h-2zM430.5 193.5h2V199.5h-2zM438.5 210.5h2V215.5h-2zM450.5 209.5h2V217.5h-2zM490.5 278.5h2V288.5h-2zM514.5 316.5h2V320.5h-2zM518.5 312.5h2V315.5h-2zM530.5 312.5h2V324.5h-2zM534.5 297.5h2V312.5h-2zM538.5 278.5h2V297.5h-2zM542.5 276.5h2V279.5h-2zM558.5 300.5h2V312.5h-2zM566.5 291.5h2V306.5h-2zM578.5 287.5h2V306.5h-2zM582.5 277.5h2V288.5h-2zM586.5 272.5h2V277.5h-2zM594.5 252.5h2V273.5h-2zM598.5 248.5h2V252.5h-2z" fill="#fff" stroke="#000" stroke-width="1"/>
</g>
<g clip-path="url(#cd)" shape-rendering="crispEdges">
<path d="M3 422h1V444h-1zM7 420h1V444h-1zM11 416h1V444h-1zM15 412h1V444h-1zM19 406h1V444h-1zM23 401h1V444h-1zM27 399h1V444h-1zM31 399h1V444h-1zM35 398h1V444h-1zM39 398h1V444h-1zM43 399h1V444h-1zM47 400h1V444h-1zM51 400h1V444h-1zM55 400h1V444h-1zM59 399h1V444h-1zM63 399h1V444h-1zM67 398h1V444h-1zM71 394h1V444h-1zM75 387h1V444h-1zM79 378h1V444h-1zM83 373h1V444h-1zM87 371h1V444h-1zM91 371h1V444h-1zM95 368h1V444h-1zM99 363h1V444h-1zM103 361h1V444h-1zM107 361h1V444h-1zM111 362h1V444h-1zM115 362h1V444h-1zM119 365h1V444h-1zM123 367h1V444h-1zM127 370h1V444h-1zM131 374h1V444h-1zM135 379h1V444h-1zM139 384h1V444h-1zM143 387h1V444h-1zM147 384h1V444h-1zM151 381h1V444h-1zM155 378h1V444h-1zM159 373h1V444h-1zM163 379h1V444h-1zM167 395h1V444h-1zM171 404h1V444h-1zM175 412h1V444h-1zM179 419h1V444h-1zM183 424h1V444h-1zM187 425h1V444h-1zM191 431h1V444h-1zM195 442h1V444h-1zM199 443h1V444h-1zM203 443h1V445h-1zM207 443h1V450h-1zM211 443h1V451h-1zM215 443h1V456h-1zM219 443h1V458h-1zM223 443h1V463h-1zM227 443h1V467h-1zM231 443h1V463h-1zM235 443h1V459h-1zM239 443h1V460h-1zM243 443h1V463h-1zM247 443h1V467h-1zM251 443h1V470h-1zM255 443h1V474h-1zM259 443h1V485h-1zM263 443h1V489h-1zM267 443h1V496h-1zM271 443h1V503h-1zM275 443h1V509h-1zM279 443h1V514h-1zM283 443h1V512h-1zM287 443h1V509h-1zM291 443h1V509h-1zM295 443h1V505h-1zM299 443h1V503h-1zM303 443h1V499h-1zM307 443h1V497h-1zM311 443h1V494h-1zM315 443h1V491h-1zM319 443h1V495h-1zM323 443h1V497h-1zM327 443h1V497h-1zM331 443h1V494h-1zM335 443h1V492h-1zM339 443h1V491h-1zM343 443h1V494h-1zM347 443h1V497h-1zM351 443h1V494h-1zM355 443h1V486h-1zM359 443h1V479h-1zM363 443h1V473h-1zM367 443h1V466h-1zM371 443h1V461h-1zM375 443h1V457h-1zM379 443h1V459h-1zM383 443h1V458h-1zM387 443h1V456h-1zM391 443h1V455h-1zM395 443h1V451h-1zM399 443h1V450h-1zM403 443h1V445h-1zM407 441h1V444h-1zM411 437h1V444h-1zM415 434h1V444h-1zM419 431h1V444h-1zM423 440h1V444h-1zM427 442h1V444h-1zM431 443h1V445h-1zM435 443h1V450h-1zM439 443h1V454h-1zM443 443h1V458h-1zM447 443h1V461h-1zM451 443h1V463h-1zM455 443h1V463h-1zM459 443h1V471h-1zM463 443h1V481h-1zM467 443h1V487h-1zM471 443h1V493h-1zM475 443h1V498h-1zM479 443h1V502h-1zM483 443h1V510h-1zM487 443h1V511h-1zM491 443h1V512h-1zM495 443h1V514h-1zM499 443h1V516h-1zM503 443h1V518h-1zM507 443h1V520h-1zM511 443h1V524h-1zM515 443h1V527h-1zM519 443h1V524h-1zM523 443h1V523h-1zM527 443h1V522h-1zM531 443h1V521h-1zM535 443h1V515h-1zM539 443h1V503h-1zM543 443h1V494h-1zM547 443h1V489h-1zM551 443h1V490h-1zM555 443h1V490h-1zM559 443h1V487h-1zM563 443h1V485h-1zM567 443h1V481h-1zM571 443h1V477h-1zM575 443h1V475h-1zM579 443h1V475h-1zM583 443h1V465h-1zM587 443h1V458h-1zM591 443h1V453h-1zM595 443h1V445h-1zM599 436h1V444h-1z" fill="#c0c0c0"/>
<polyline points="2.9,422.3 10.9,421.7 15.3,420.3 21.8,417.1 28.5,412.4 35.5,408.2 42.0,403.4 47.8,400.0 55.4,398.7 63.8,398.2 72.2,397.9 78.0,395.3 83.9,391.6 92.3,384.4 99.0,379.2 105.7,371.0 111.6,365.9 116.0,364.0 121.5,362.8 130.0,363.1 137.0,366.5 146.9,373.2 155.3,377.7 162.9,379.4 170.4,384.1 178.8,390.8 188.9,402.9 197.3,418.0 205.8,429.5 215.2,439.2 223.6,449.3 232.0,456.0 238.7,458.2 247.1,461.9 257.1,465.2 267.2,472.8 275.6,484.5 282.3,492.9 289.0,500.5 297.4,505.5 309.2,505.9 315.1,502.5 320.1,498.8 326.9,498.0 333.6,494.6 342.0,492.9 355.4,492.9 365.5,487.1 375.5,476.2 385.6,466.1 394.0,458.5 402.4,454.3 410.8,449.6 419.1,443.3 423.6,442.0 428.0,440.3 434.8,440.1 440.3,441.3 445.9,445.2 452.4,449.5 459.4,455.8 465.8,462.2 477.1,475.3 488.9,492.1 500.6,503.9 510.7,513.1 515.0,516.4 521.7,519.8 528.4,521.8 535.1,521.8 540.2,520.1 548.6,512.2 560.3,499.7 568.7,490.4 575.4,484.0 582.1,480.4 588.8,475.3 595.6,467.8 598.9,461.9" fill="none" stroke="#ff0000" stroke-width="2" stroke-linejoin="round"/>
</g>
<g shape-rendering="crispEdges">
<path d="M109 550h3v1h-3zM26 553h2v1h-2zM84 553h2v1h-2zM121 555h3v1h-3zM16 560h2v1h-2zM95 561h2v1h-2zM60 563h2v1h-2zM66 564h2v1h-2zM53 566h3v1h-3zM47 567h3v1h-3zM71 567h2v1h-2zM42 568h2v1h-2zM550 585h2v1h-2zM404 600h2v1h-2zM391 603h2v1h-2zM397 603h3v1h-3zM144 604h2v1h-2zM576 628h2v1h-2zM243 652h2v1h-2zM337 654h2v1h-2zM332 655h2v1h-2zM527 664h2v1h-2zM460 667h2v1h-2zM213 676h2v1h-2zM218 676h2v1h-2zM469 677h2v1h-2zM224 679h2v1h-2zM445 681h3v1h-3zM193 682h2v1h-2zM230 682h2v1h-2zM180 688h2v1h-2zM282 700h2v1h-2zM276 701h2v1h-2zM495 702h2v1h-2zM500 702h3v1h-3zM506 703h3v1h-3zM3 577h1v2h-1zM4 576h1v1h-1zM5 572h1v1h-1zM6 570h1v2h-1zM9 566h1v1h-1zM10 565h1v1h-1zM11 564h1v1h-1zM15 561h1v1h-1zM21 556h1v2h-1zM22 555h1v1h-1zM28 554h1v1h-1zM32 556h1v2h-1zM33 558h1v1h-1zM35 562h1v1h-1zM36 563h1v1h-1zM37 564h1v1h-1zM41 567h1v1h-1zM59 564h1v1h-1zM65 563h1v1h-1zM73 568h1v1h-1zM76 566h1v1h-1zM77 564h1v2h-1zM79 560h1v1h-1zM80 558h1v2h-1zM83 554h1v1h-1zM89 554h1v2h-1zM90 556h1v1h-1zM94 560h1v1h-1zM100 560h1v2h-1zM101 559h1v1h-1zM104 555h1v1h-1zM105 553h1v2h-1zM115 551h1v1h-1zM116 552h1v1h-1zM117 553h1v1h-1zM127 558h1v2h-1zM128 560h1v1h-1zM129 564h1v2h-1zM130 566h1v1h-1zM131 570h1v2h-1zM132 572h1v1h-1zM133 576h1v3h-1zM134 582h1v1h-1zM135 583h1v2h-1zM136 588h1v2h-1zM137 590h1v1h-1zM138 594h1v3h-1zM140 600h1v1h-1zM141 601h1v2h-1zM146 603h1v1h-1zM149 599h1v2h-1zM150 598h1v1h-1zM152 593h1v2h-1zM153 592h1v1h-1zM155 587h1v2h-1zM156 586h1v1h-1zM158 581h1v2h-1zM159 580h1v1h-1zM161 582h1v2h-1zM162 584h1v1h-1zM163 588h1v1h-1zM164 589h1v2h-1zM164 594h1v1h-1zM165 595h1v2h-1zM166 600h1v3h-1zM167 606h1v3h-1zM167 612h1v1h-1zM168 613h1v2h-1zM168 618h1v3h-1zM169 624h1v3h-1zM169 630h1v3h-1zM170 636h1v3h-1zM170 642h1v1h-1zM171 643h1v2h-1zM171 648h1v3h-1zM172 654h1v3h-1zM173 660h1v3h-1zM174 666h1v3h-1zM174 672h1v1h-1zM175 673h1v2h-1zM176 678h1v3h-1zM177 684h1v1h-1zM178 685h1v2h-1zM182 687h1v1h-1zM186 684h1v1h-1zM187 683h1v1h-1zM188 682h1v1h-1zM192 681h1v1h-1zM197 685h1v1h-1zM198 686h1v1h-1zM199 687h1v1h-1zM203 688h1v1h-1zM204 687h1v1h-1zM205 686h1v1h-1zM208 681h1v2h-1zM209 680h1v1h-1zM212 677h1v1h-1zM220 677h1v1h-1zM226 680h1v1h-1zM232 681h1v1h-1zM234 676h1v2h-1zM235 675h1v1h-1zM236 670h1v2h-1zM237 669h1v1h-1zM238 663h1v3h-1zM240 658h1v2h-1zM241 657h1v1h-1zM243 653h1v1h-1zM247 653h1v1h-1zM248 654h1v2h-1zM249 659h1v2h-1zM250 661h1v1h-1zM251 665h1v1h-1zM252 666h1v2h-1zM255 671h1v1h-1zM256 672h1v2h-1zM258 677h1v1h-1zM259 678h1v1h-1zM260 679h1v1h-1zM263 683h1v1h-1zM264 684h1v2h-1zM266 689h1v1h-1zM267 690h1v2h-1zM270 695h1v2h-1zM271 697h1v1h-1zM275 700h1v1h-1zM281 701h1v1h-1zM285 696h1v1h-1zM286 694h1v2h-1zM288 688h1v3h-1zM290 683h1v2h-1zM291 682h1v1h-1zM292 677h1v2h-1zM293 676h1v1h-1zM294 670h1v3h-1zM297 665h1v2h-1zM298 664h1v1h-1zM301 660h1v1h-1zM302 658h1v2h-1zM305 654h1v1h-1zM306 652h1v2h-1zM308 646h1v3h-1zM309 642h1v1h-1zM310 640h1v2h-1zM311 634h1v3h-1zM312 630h1v1h-1zM313 628h1v2h-1zM314 622h1v3h-1zM316 618h1v1h-1zM317 616h1v2h-1zM319 612h1v2h-1zM320 614h1v1h-1zM321 618h1v1h-1zM322 619h1v2h-1zM323 624h1v2h-1zM324 626h1v1h-1zM324 630h1v1h-1zM325 631h1v2h-1zM326 636h1v3h-1zM327 642h1v2h-1zM328 644h1v1h-1zM329 648h1v2h-1zM330 650h1v1h-1zM331 654h1v1h-1zM339 653h1v1h-1zM341 657h1v1h-1zM342 658h1v2h-1zM344 663h1v1h-1zM345 664h1v2h-1zM347 669h1v1h-1zM348 670h1v1h-1zM349 671h1v1h-1zM352 668h1v3h-1zM353 664h1v1h-1zM354 662h1v2h-1zM355 656h1v3h-1zM356 650h1v3h-1zM357 644h1v3h-1zM358 638h1v3h-1zM359 632h1v3h-1zM360 626h1v3h-1zM361 620h1v3h-1zM362 614h1v3h-1zM363 608h1v3h-1zM364 603h1v2h-1zM365 602h1v1h-1zM366 596h1v3h-1zM367 591h1v2h-1zM368 590h1v1h-1zM369 584h1v3h-1zM370 580h1v1h-1zM371 578h1v2h-1zM372 574h1v1h-1zM373 572h1v2h-1zM374 568h1v1h-1zM375 566h1v2h-1zM379 567h1v2h-1zM380 569h1v1h-1zM381 573h1v3h-1zM383 579h1v3h-1zM384 585h1v1h-1zM385 586h1v2h-1zM386 591h1v3h-1zM388 597h1v1h-1zM389 598h1v2h-1zM393 602h1v1h-1zM403 601h1v1h-1zM408 595h1v3h-1zM410 589h1v3h-1zM412 584h1v2h-1zM413 583h1v1h-1zM415 578h1v2h-1zM416 577h1v1h-1zM419 576h1v1h-1zM420 577h1v2h-1zM421 582h1v2h-1zM422 584h1v1h-1zM423 588h1v3h-1zM424 594h1v3h-1zM425 600h1v3h-1zM426 606h1v3h-1zM427 612h1v3h-1zM428 618h1v3h-1zM428 624h1v2h-1zM429 626h1v1h-1zM429 630h1v3h-1zM430 636h1v3h-1zM431 642h1v3h-1zM432 648h1v3h-1zM433 654h1v3h-1zM434 660h1v3h-1zM435 666h1v3h-1zM437 672h1v2h-1zM438 674h1v1h-1zM439 678h1v1h-1zM440 679h1v1h-1zM441 680h1v1h-1zM451 677h1v1h-1zM452 675h1v2h-1zM454 671h1v1h-1zM455 669h1v2h-1zM459 666h1v1h-1zM464 670h1v1h-1zM465 671h1v2h-1zM468 676h1v1h-1zM474 680h1v1h-1zM475 681h1v1h-1zM476 682h1v1h-1zM480 684h1v1h-1zM481 685h1v1h-1zM482 686h1v1h-1zM485 690h1v2h-1zM486 692h1v1h-1zM489 696h1v2h-1zM490 698h1v1h-1zM494 701h1v1h-1zM512 700h1v2h-1zM513 699h1v1h-1zM515 694h1v2h-1zM516 693h1v1h-1zM517 687h1v3h-1zM519 681h1v3h-1zM521 675h1v3h-1zM523 670h1v2h-1zM524 669h1v1h-1zM526 665h1v1h-1zM532 662h1v1h-1zM533 661h1v1h-1zM534 660h1v1h-1zM536 654h1v3h-1zM537 648h1v3h-1zM538 642h1v3h-1zM539 636h1v3h-1zM540 630h1v3h-1zM541 624h1v3h-1zM542 618h1v3h-1zM543 612h1v3h-1zM544 606h1v3h-1zM545 600h1v3h-1zM546 594h1v3h-1zM547 588h1v3h-1zM551 586h1v1h-1zM552 590h1v1h-1zM553 591h1v2h-1zM554 596h1v3h-1zM555 602h1v2h-1zM556 604h1v1h-1zM556 608h1v2h-1zM557 610h1v1h-1zM557 614h1v2h-1zM558 616h1v1h-1zM558 620h1v2h-1zM559 622h1v1h-1zM560 626h1v3h-1zM561 632h1v2h-1zM562 634h1v1h-1zM563 638h1v2h-1zM564 640h1v1h-1zM568 639h1v2h-1zM569 638h1v1h-1zM572 633h1v2h-1zM573 632h1v1h-1zM578 627h1v1h-1zM581 624h1v1h-1zM582 622h1v2h-1zM584 617h1v2h-1zM585 616h1v1h-1zM586 610h1v3h-1zM587 606h1v1h-1zM588 604h1v2h-1zM589 598h1v3h-1zM590 593h1v2h-1zM591 592h1v1h-1zM592 586h1v3h-1zM593 581h1v2h-1zM594 580h1v1h-1zM595 574h1v3h-1zM596 570h1v1h-1zM597 568h1v2h-1zM599 563h1v2h-1z" fill="#ff0000"/>
<path d="M105 548h3v1h-3zM79 549h2v1h-2zM103 549h2v1h-2zM81 550h3v1h-3zM111 552h2v1h-2zM113 553h3v1h-3zM116 554h2v1h-2zM118 555h6v1h-6zM17 556h2v1h-2zM374 559h2v1h-2zM59 560h5v1h-5zM94 563h2v1h-2zM91 564h3v1h-3zM46 566h2v1h-2zM39 567h2v1h-2zM44 567h2v1h-2zM48 567h2v1h-2zM37 568h2v1h-2zM41 568h3v1h-3zM50 568h2v1h-2zM35 569h2v1h-2zM70 570h2v1h-2zM67 571h3v1h-3zM158 572h2v1h-2zM158 573h2v1h-2zM411 573h5v1h-5zM546 576h2v1h-2zM394 599h2v1h-2zM385 603h2v1h-2zM387 604h5v1h-5zM139 607h5v1h-5zM314 607h2v1h-2zM578 625h2v1h-2zM576 626h2v1h-2zM573 627h3v1h-3zM571 628h2v1h-2zM239 644h2v1h-2zM561 645h3v1h-3zM559 646h2v1h-2zM333 652h2v1h-2zM337 653h2v1h-2zM295 661h3v1h-3zM327 661h2v1h-2zM298 662h2v1h-2zM529 664h2v1h-2zM207 674h5v1h-5zM218 674h2v1h-2zM432 677h2v1h-2zM251 678h2v1h-2zM434 678h2v1h-2zM187 679h3v1h-3zM251 679h2v1h-2zM346 679h2v1h-2zM436 679h2v1h-2zM190 680h2v1h-2zM438 680h2v1h-2zM467 680h5v1h-5zM472 681h2v1h-2zM474 682h2v1h-2zM179 685h2v1h-2zM442 685h2v1h-2zM181 686h3v1h-3zM171 690h2v1h-2zM196 690h2v1h-2zM173 691h3v1h-3zM198 691h2v1h-2zM267 700h6v1h-6zM498 700h2v1h-2zM273 701h3v1h-3zM496 701h2v1h-2zM276 702h2v1h-2zM487 702h9v1h-9zM278 703h2v1h-2zM503 704h2v1h-2zM505 705h3v1h-3zM3 566h1v1h-1zM4 564h1v2h-1zM5 563h1v1h-1zM6 561h1v2h-1zM7 560h1v1h-1zM8 561h1v1h-1zM9 562h1v1h-1zM10 563h1v1h-1zM11 564h1v1h-1zM12 562h1v2h-1zM13 561h1v1h-1zM14 559h1v2h-1zM15 558h1v1h-1zM16 557h1v1h-1zM19 555h1v1h-1zM20 553h1v2h-1zM21 551h1v2h-1zM22 549h1v2h-1zM23 548h1v1h-1zM24 549h1v2h-1zM25 551h1v2h-1zM26 553h1v2h-1zM27 555h1v1h-1zM28 556h1v2h-1zM29 558h1v2h-1zM30 560h1v2h-1zM31 562h1v1h-1zM32 563h1v2h-1zM33 565h1v2h-1zM34 567h1v2h-1zM35 570h1v1h-1zM52 567h1v1h-1zM53 566h1v1h-1zM54 565h1v1h-1zM55 564h1v1h-1zM56 563h1v1h-1zM57 562h1v1h-1zM58 561h1v1h-1zM63 561h1v1h-1zM64 562h1v3h-1zM65 565h1v3h-1zM66 568h1v3h-1zM67 572h1v1h-1zM72 568h1v2h-1zM73 566h1v2h-1zM74 564h1v2h-1zM75 561h1v3h-1zM76 558h1v3h-1zM77 554h1v4h-1zM78 551h1v3h-1zM79 550h1v1h-1zM84 551h1v2h-1zM85 553h1v2h-1zM86 555h1v2h-1zM87 557h1v1h-1zM88 558h1v2h-1zM89 560h1v2h-1zM90 562h1v2h-1zM91 565h1v1h-1zM96 562h1v1h-1zM97 560h1v2h-1zM98 559h1v1h-1zM99 557h1v2h-1zM100 555h1v2h-1zM101 553h1v2h-1zM102 551h1v2h-1zM103 550h1v1h-1zM108 549h1v1h-1zM109 550h1v1h-1zM110 551h1v1h-1zM123 556h1v1h-1zM124 557h1v2h-1zM125 559h1v3h-1zM126 562h1v2h-1zM127 564h1v4h-1zM128 568h1v6h-1zM129 574h1v6h-1zM130 580h1v6h-1zM131 586h1v5h-1zM132 591h1v3h-1zM133 594h1v2h-1zM134 596h1v3h-1zM135 599h1v2h-1zM136 601h1v2h-1zM137 603h1v2h-1zM138 605h1v2h-1zM143 606h1v1h-1zM144 603h1v3h-1zM145 600h1v3h-1zM146 597h1v3h-1zM147 594h1v3h-1zM148 592h1v2h-1zM149 590h1v2h-1zM150 588h1v2h-1zM151 586h1v2h-1zM152 584h1v2h-1zM153 583h1v1h-1zM154 581h1v2h-1zM155 579h1v2h-1zM156 577h1v2h-1zM157 574h1v3h-1zM159 570h1v2h-1zM159 574h1v1h-1zM160 575h1v9h-1zM161 584h1v9h-1zM162 593h1v9h-1zM163 602h1v10h-1zM164 612h1v10h-1zM165 622h1v10h-1zM166 632h1v10h-1zM167 642h1v11h-1zM168 653h1v11h-1zM169 664h1v10h-1zM170 674h1v11h-1zM171 685h1v5h-1zM176 689h1v2h-1zM177 688h1v1h-1zM178 686h1v2h-1zM184 684h1v2h-1zM185 682h1v2h-1zM186 680h1v2h-1zM187 678h1v1h-1zM191 681h1v1h-1zM192 682h1v2h-1zM193 684h1v2h-1zM194 686h1v2h-1zM195 688h1v2h-1zM200 689h1v2h-1zM201 687h1v2h-1zM202 685h1v2h-1zM203 682h1v3h-1zM204 680h1v2h-1zM205 678h1v2h-1zM206 676h1v2h-1zM207 675h1v1h-1zM212 675h1v2h-1zM213 677h1v1h-1zM214 678h1v2h-1zM215 680h1v1h-1zM216 678h1v2h-1zM217 676h1v2h-1zM218 675h1v1h-1zM219 673h1v1h-1zM220 675h1v2h-1zM221 677h1v2h-1zM222 679h1v2h-1zM223 681h1v2h-1zM224 683h1v1h-1zM225 684h1v1h-1zM226 685h1v1h-1zM227 686h1v1h-1zM228 684h1v2h-1zM229 682h1v2h-1zM230 680h1v2h-1zM231 676h1v4h-1zM232 672h1v4h-1zM233 667h1v5h-1zM234 663h1v4h-1zM235 658h1v5h-1zM236 654h1v4h-1zM237 649h1v5h-1zM238 645h1v4h-1zM239 642h1v2h-1zM240 645h1v2h-1zM241 647h1v2h-1zM242 649h1v3h-1zM243 652h1v3h-1zM244 655h1v2h-1zM245 657h1v2h-1zM246 659h1v2h-1zM247 661h1v4h-1zM248 665h1v4h-1zM249 669h1v5h-1zM250 674h1v4h-1zM251 680h1v1h-1zM253 676h1v2h-1zM254 674h1v2h-1zM255 672h1v2h-1zM256 674h1v3h-1zM257 677h1v3h-1zM258 680h1v3h-1zM259 683h1v2h-1zM260 685h1v2h-1zM261 687h1v2h-1zM262 689h1v2h-1zM263 691h1v2h-1zM264 693h1v2h-1zM265 695h1v2h-1zM266 697h1v2h-1zM267 699h1v1h-1zM280 701h1v2h-1zM281 699h1v2h-1zM282 697h1v2h-1zM283 694h1v3h-1zM284 689h1v5h-1zM285 685h1v4h-1zM286 680h1v5h-1zM287 676h1v4h-1zM288 674h1v2h-1zM289 672h1v2h-1zM290 670h1v2h-1zM291 668h1v2h-1zM292 666h1v2h-1zM293 664h1v2h-1zM294 662h1v2h-1zM295 660h1v1h-1zM299 661h1v1h-1zM300 658h1v3h-1zM301 654h1v4h-1zM302 651h1v3h-1zM303 649h1v2h-1zM304 647h1v2h-1zM305 645h1v2h-1zM306 643h1v2h-1zM307 639h1v4h-1zM308 632h1v7h-1zM309 624h1v8h-1zM310 617h1v7h-1zM311 613h1v4h-1zM312 611h1v2h-1zM313 609h1v2h-1zM314 608h1v1h-1zM315 606h1v1h-1zM316 608h1v3h-1zM317 611h1v2h-1zM318 613h1v3h-1zM319 616h1v5h-1zM320 621h1v8h-1zM321 629h1v7h-1zM322 636h1v8h-1zM323 644h1v5h-1zM324 649h1v4h-1zM325 653h1v4h-1zM326 657h1v4h-1zM327 662h1v1h-1zM328 660h1v1h-1zM329 658h1v2h-1zM330 656h1v2h-1zM331 654h1v2h-1zM332 653h1v1h-1zM335 651h1v1h-1zM336 652h1v1h-1zM339 654h1v3h-1zM340 657h1v5h-1zM341 662h1v4h-1zM342 666h1v5h-1zM343 671h1v3h-1zM344 674h1v2h-1zM345 676h1v2h-1zM346 678h1v1h-1zM347 680h1v2h-1zM348 675h1v4h-1zM349 671h1v4h-1zM350 667h1v4h-1zM351 661h1v6h-1zM352 653h1v8h-1zM353 645h1v8h-1zM354 637h1v8h-1zM355 629h1v8h-1zM356 621h1v8h-1zM357 614h1v7h-1zM358 606h1v8h-1zM359 602h1v4h-1zM360 600h1v2h-1zM361 598h1v2h-1zM362 596h1v2h-1zM363 593h1v3h-1zM364 589h1v4h-1zM365 585h1v4h-1zM366 581h1v4h-1zM367 577h1v4h-1zM368 573h1v4h-1zM369 569h1v4h-1zM370 565h1v4h-1zM371 562h1v3h-1zM372 561h1v1h-1zM373 560h1v1h-1zM375 558h1v1h-1zM375 560h1v1h-1zM376 561h1v6h-1zM377 567h1v5h-1zM378 572h1v6h-1zM379 578h1v5h-1zM380 583h1v5h-1zM381 588h1v6h-1zM382 594h1v5h-1zM383 599h1v3h-1zM384 602h1v1h-1zM392 602h1v2h-1zM393 601h1v1h-1zM394 600h1v1h-1zM395 598h1v1h-1zM396 600h1v2h-1zM397 602h1v3h-1zM398 605h1v2h-1zM399 607h1v2h-1zM400 605h1v2h-1zM401 603h1v2h-1zM402 601h1v2h-1zM403 598h1v3h-1zM404 596h1v2h-1zM405 594h1v2h-1zM406 592h1v2h-1zM407 588h1v4h-1zM408 584h1v4h-1zM409 580h1v4h-1zM410 576h1v4h-1zM411 574h1v2h-1zM416 574h1v2h-1zM417 576h1v2h-1zM418 578h1v2h-1zM419 580h1v5h-1zM420 585h1v8h-1zM421 593h1v8h-1zM422 601h1v8h-1zM423 609h1v9h-1zM424 618h1v8h-1zM425 626h1v9h-1zM426 635h1v8h-1zM427 643h1v8h-1zM428 651h1v7h-1zM429 658h1v8h-1zM430 666h1v7h-1zM431 673h1v4h-1zM440 681h1v2h-1zM441 683h1v1h-1zM442 684h1v1h-1zM443 686h1v1h-1zM444 683h1v2h-1zM445 680h1v3h-1zM446 678h1v2h-1zM447 676h1v2h-1zM448 674h1v2h-1zM449 672h1v2h-1zM450 670h1v2h-1zM451 668h1v2h-1zM452 666h1v2h-1zM453 665h1v1h-1zM454 663h1v2h-1zM455 662h1v1h-1zM456 663h1v2h-1zM457 665h1v2h-1zM458 667h1v2h-1zM459 669h1v1h-1zM460 670h1v1h-1zM461 671h1v2h-1zM462 673h1v1h-1zM463 674h1v1h-1zM464 675h1v2h-1zM465 677h1v1h-1zM466 678h1v2h-1zM476 683h1v1h-1zM477 684h1v1h-1zM478 685h1v1h-1zM479 686h1v1h-1zM480 687h1v2h-1zM481 689h1v2h-1zM482 691h1v2h-1zM483 693h1v2h-1zM484 695h1v2h-1zM485 697h1v2h-1zM486 699h1v2h-1zM487 701h1v1h-1zM500 701h1v1h-1zM501 702h1v1h-1zM502 703h1v1h-1zM508 703h1v2h-1zM509 701h1v2h-1zM510 699h1v2h-1zM511 697h1v2h-1zM512 693h1v4h-1zM513 689h1v4h-1zM514 685h1v4h-1zM515 681h1v4h-1zM516 677h1v4h-1zM517 673h1v4h-1zM518 669h1v4h-1zM519 666h1v3h-1zM520 664h1v2h-1zM521 663h1v1h-1zM522 661h1v2h-1zM523 660h1v1h-1zM524 661h1v2h-1zM525 663h1v1h-1zM526 664h1v2h-1zM527 666h1v1h-1zM528 665h1v1h-1zM531 662h1v2h-1zM532 658h1v4h-1zM533 654h1v4h-1zM534 650h1v4h-1zM535 643h1v7h-1zM536 633h1v10h-1zM537 622h1v11h-1zM538 612h1v10h-1zM539 603h1v9h-1zM540 597h1v6h-1zM541 590h1v7h-1zM542 584h1v6h-1zM543 580h1v4h-1zM544 579h1v1h-1zM545 577h1v2h-1zM547 575h1v1h-1zM547 577h1v2h-1zM548 579h1v6h-1zM549 585h1v6h-1zM550 591h1v6h-1zM551 597h1v7h-1zM552 604h1v6h-1zM553 610h1v7h-1zM554 617h1v6h-1zM555 623h1v6h-1zM556 629h1v5h-1zM557 634h1v5h-1zM558 639h1v5h-1zM559 644h1v2h-1zM563 644h1v1h-1zM564 641h1v3h-1zM565 637h1v4h-1zM566 634h1v3h-1zM567 632h1v2h-1zM568 631h1v1h-1zM569 630h1v1h-1zM570 629h1v1h-1zM579 624h1v1h-1zM580 620h1v4h-1zM581 616h1v4h-1zM582 612h1v4h-1zM583 608h1v4h-1zM584 602h1v6h-1zM585 597h1v5h-1zM586 591h1v6h-1zM587 587h1v4h-1zM588 583h1v4h-1zM589 579h1v4h-1zM590 575h1v4h-1zM591 572h1v3h-1zM592 569h1v3h-1zM593 566h1v3h-1zM594 563h1v3h-1zM595 561h1v2h-1zM596 559h1v2h-1zM597 558h1v1h-1zM598 556h1v2h-1zM599 555h1v1h-1z" fill="#20b2aa"/>
</g>
<g shape-rendering="crispEdges" fill="none" stroke="#000" stroke-width="1">
<path d="M672.5 2.5H2.5V345.5H672.5"/>
<path d="M672.5 347.5H2.5V534.5H672.5"/>
<path d="M672.5 536.5H2.5V711.5H672.5"/>
<line x1="672.5" y1="2" x2="672.5" y2="712"/>
</g>
<g shape-rendering="crispEdges" stroke="#000">
<line x1="673" y1="12.5" x2="675" y2="12.5"/>
<line x1="673" y1="45.5" x2="675" y2="45.5"/>
<line x1="673" y1="78.5" x2="675" y2="78.5"/>
<line x1="673" y1="111.5" x2="675" y2="111.5"/>
<line x1="673" y1="144.5" x2="675" y2="144.5"/>
<line x1="673" y1="177.5" x2="675" y2="177.5"/>
<line x1="673" y1="210.5" x2="675" y2="210.5"/>
<line x1="673" y1="243.5" x2="675" y2="243.5"/>
<line x1="673" y1="276.5" x2="675" y2="276.5"/>
<line x1="673" y1="309.5" x2="675" y2="309.5"/>
<line x1="673" y1="342.5" x2="675" y2="342.5"/>
<line x1="673" y1="349.5" x2="674" y2="349.5"/>
<line x1="673" y1="443.5" x2="674" y2="443.5"/>
<line x1="673" y1="533.5" x2="674" y2="533.5"/>
<line x1="673" y1="538.5" x2="674" y2="538.5"/>
<line x1="673" y1="710.5" x2="674" y2="710.5"/>
</g>
<text x="677.6" y="15" textLength="33.4" lengthAdjust="spacingAndGlyphs">0.97695</text>
<text x="677.6" y="48" textLength="33.4" lengthAdjust="spacingAndGlyphs">0.97185</text>
<text x="677.6" y="81" textLength="33.4" lengthAdjust="spacingAndGlyphs">0.96675</text>
<text x="677.6" y="114" textLength="33.4" lengthAdjust="spacingAndGlyphs">0.96165</text>
<text x="677.6" y="147" textLength="33.4" lengthAdjust="spacingAndGlyphs">0.95655</text>
<text x="677.6" y="180" textLength="33.4" lengthAdjust="spacingAndGlyphs">0.95145</text>
<text x="677.6" y="213" textLength="33.4" lengthAdjust="spacingAndGlyphs">0.94635</text>
<text x="677.6" y="246" textLength="33.4" lengthAdjust="spacingAndGlyphs">0.94125</text>
<text x="677.6" y="279" textLength="33.4" lengthAdjust="spacingAndGlyphs">0.93615</text>
<text x="677.6" y="312" textLength="33.4" lengthAdjust="spacingAndGlyphs">0.93105</text>
<text x="677.6" y="345" textLength="33.4" lengthAdjust="spacingAndGlyphs">0.92595</text>
<rect x="674" y="242" width="41" height="11" fill="#000"/>
<text x="677.6" y="251" textLength="33.4" lengthAdjust="spacingAndGlyphs" class="w">0.94037</text>
<rect x="674" y="31" width="41" height="11" fill="#90ee90"/>
<text x="677.6" y="40" textLength="33.4" lengthAdjust="spacingAndGlyphs" class="w">0.97300</text>
<rect x="674" y="63" width="41" height="11" fill="#90ee90"/>
<text x="677.6" y="72" textLength="33.4" lengthAdjust="spacingAndGlyphs" class="w">0.96800</text>
<rect x="674" y="102" width="41" height="11" fill="#90ee90"/>
<text x="677.6" y="111" textLength="33.4" lengthAdjust="spacingAndGlyphs" class="w">0.96200</text>
<rect x="674" y="135" width="41" height="11" fill="#90ee90"/>
<text x="677.6" y="144" textLength="33.4" lengthAdjust="spacingAndGlyphs" class="w">0.95700</text>
<rect x="674" y="164" width="41" height="11" fill="#90ee90"/>
<text x="677.6" y="173" textLength="33.4" lengthAdjust="spacingAndGlyphs" class="w">0.95250</text>
<rect x="674" y="212" width="41" height="11" fill="#90ee90"/>
<text x="677.6" y="221" textLength="33.4" lengthAdjust="spacingAndGlyphs" class="w">0.94500</text>
<rect x="674" y="232" width="41" height="11" fill="#90ee90"/>
<text x="677.6" y="241" textLength="33.4" lengthAdjust="spacingAndGlyphs" class="w">0.94200</text>
<rect x="674" y="251" width="41" height="11" fill="#90ee90"/>
<text x="677.6" y="260" textLength="33.4" lengthAdjust="spacingAndGlyphs" class="w">0.93900</text>
<rect x="674" y="277" width="41" height="11" fill="#90ee90"/>
<text x="677.6" y="286" textLength="33.4" lengthAdjust="spacingAndGlyphs" class="w">0.93500</text>
<rect x="674" y="303" width="41" height="11" fill="#90ee90"/>
<text x="677.6" y="312" textLength="33.4" lengthAdjust="spacingAndGlyphs" class="w">0.93100</text>
<rect x="674" y="317" width="41" height="11" fill="#90ee90"/>
<text x="677.6" y="326" textLength="33.4" lengthAdjust="spacingAndGlyphs" class="w">0.92875</text>
<rect x="674" y="12" width="41" height="11" fill="#008080"/>
<text x="677.6" y="21" textLength="33.4" lengthAdjust="spacingAndGlyphs" class="w">0.97600</text>
<rect x="674" y="332" width="41" height="11" fill="#008080"/>
<text x="677.6" y="341" textLength="33.4" lengthAdjust="spacingAndGlyphs" class="w">0.92650</text>
<text x="676" y="355" textLength="38.5" lengthAdjust="spacingAndGlyphs">0.005066</text>
<text x="676" y="446" textLength="18.1" lengthAdjust="spacingAndGlyphs">0.00</text>
<text x="676" y="531" textLength="41.9" lengthAdjust="spacingAndGlyphs">-0.004868</text>
<text x="676" y="546.5" textLength="15.3" lengthAdjust="spacingAndGlyphs">100</text>
<text x="675.6" y="575" textLength="10.2" lengthAdjust="spacingAndGlyphs">80</text>
<text x="675.6" y="679" textLength="10.2" lengthAdjust="spacingAndGlyphs">20</text>
<text x="675.6" y="708" textLength="5.1" lengthAdjust="spacingAndGlyphs">0</text>
<path d="M6 9h7l-3.5 4z" fill="#000" shape-rendering="crispEdges"/>
<text x="18.8" y="14" textLength="54.8" lengthAdjust="spacingAndGlyphs">AUDUSD,H4</text>
<text x="79.6" y="14" textLength="34.2" lengthAdjust="spacingAndGlyphs">0.93993</text>
<text x="115.8" y="14" textLength="34.2" lengthAdjust="spacingAndGlyphs">0.94125</text>
<text x="151.7" y="14" textLength="34.2" lengthAdjust="spacingAndGlyphs">0.93984</text>
<text x="187.7" y="14" textLength="34.2" lengthAdjust="spacingAndGlyphs">0.94037</text>
<text x="7.4" y="360" textLength="66.0" lengthAdjust="spacingAndGlyphs">MACD(12,26,9)</text>
<text x="76" y="360" textLength="37.6" lengthAdjust="spacingAndGlyphs">0.000420</text>
<text x="116.8" y="360" textLength="41.6" lengthAdjust="spacingAndGlyphs">-0.000984</text>
<text x="7.4" y="549" textLength="54.6" lengthAdjust="spacingAndGlyphs">Stoch(13,3,3)</text>
<text x="65.2" y="549" textLength="32.6" lengthAdjust="spacingAndGlyphs">90.4658</text>
<text x="100.9" y="549" textLength="32.6" lengthAdjust="spacingAndGlyphs">85.9386</text>
<text x="7.5" y="707" textLength="229.2" lengthAdjust="spacingAndGlyphs">FxPro MT4, © 2001-2013, MetaQuotes Software Corp.</text>
<g shape-rendering="crispEdges" stroke="#000">
<line x1="3.5" y1="712" x2="3.5" y2="715"/>
<line x1="67.5" y1="712" x2="67.5" y2="715"/>
<line x1="131.5" y1="712" x2="131.5" y2="715"/>
<line x1="195.5" y1="712" x2="195.5" y2="715"/>
<line x1="259.5" y1="712" x2="259.5" y2="715"/>
<line x1="323.5" y1="712" x2="323.5" y2="715"/>
<line x1="387.5" y1="712" x2="387.5" y2="715"/>
<line x1="451.5" y1="712" x2="451.5" y2="715"/>
<line x1="515.5" y1="712" x2="515.5" y2="715"/>
<line x1="579.5" y1="712" x2="579.5" y2="715"/>
</g>
<text x="2.6" y="724" textLength="50.4" lengthAdjust="spacingAndGlyphs">14 Oct 2013</text>
<text x="66.8" y="724" textLength="53.0" lengthAdjust="spacingAndGlyphs">17 Oct 04:00</text>
<text x="130.8" y="724" textLength="53.0" lengthAdjust="spacingAndGlyphs">21 Oct 20:00</text>
<text x="194.8" y="724" textLength="53.0" lengthAdjust="spacingAndGlyphs">24 Oct 12:00</text>
<text x="258.8" y="724" textLength="53.0" lengthAdjust="spacingAndGlyphs">29 Oct 04:00</text>
<text x="322.8" y="724" textLength="53.0" lengthAdjust="spacingAndGlyphs">31 Oct 20:00</text>
<text x="386.8" y="724" textLength="51.4" lengthAdjust="spacingAndGlyphs">5 Nov 12:00</text>
<text x="450.8" y="724" textLength="51.4" lengthAdjust="spacingAndGlyphs">8 Nov 04:00</text>
<text x="514.8" y="724" textLength="56.6" lengthAdjust="spacingAndGlyphs">12 Nov 20:00</text>
<text x="578.8" y="724" textLength="56.6" lengthAdjust="spacingAndGlyphs">15 Nov 12:00</text>
</svg>
</body></html>
